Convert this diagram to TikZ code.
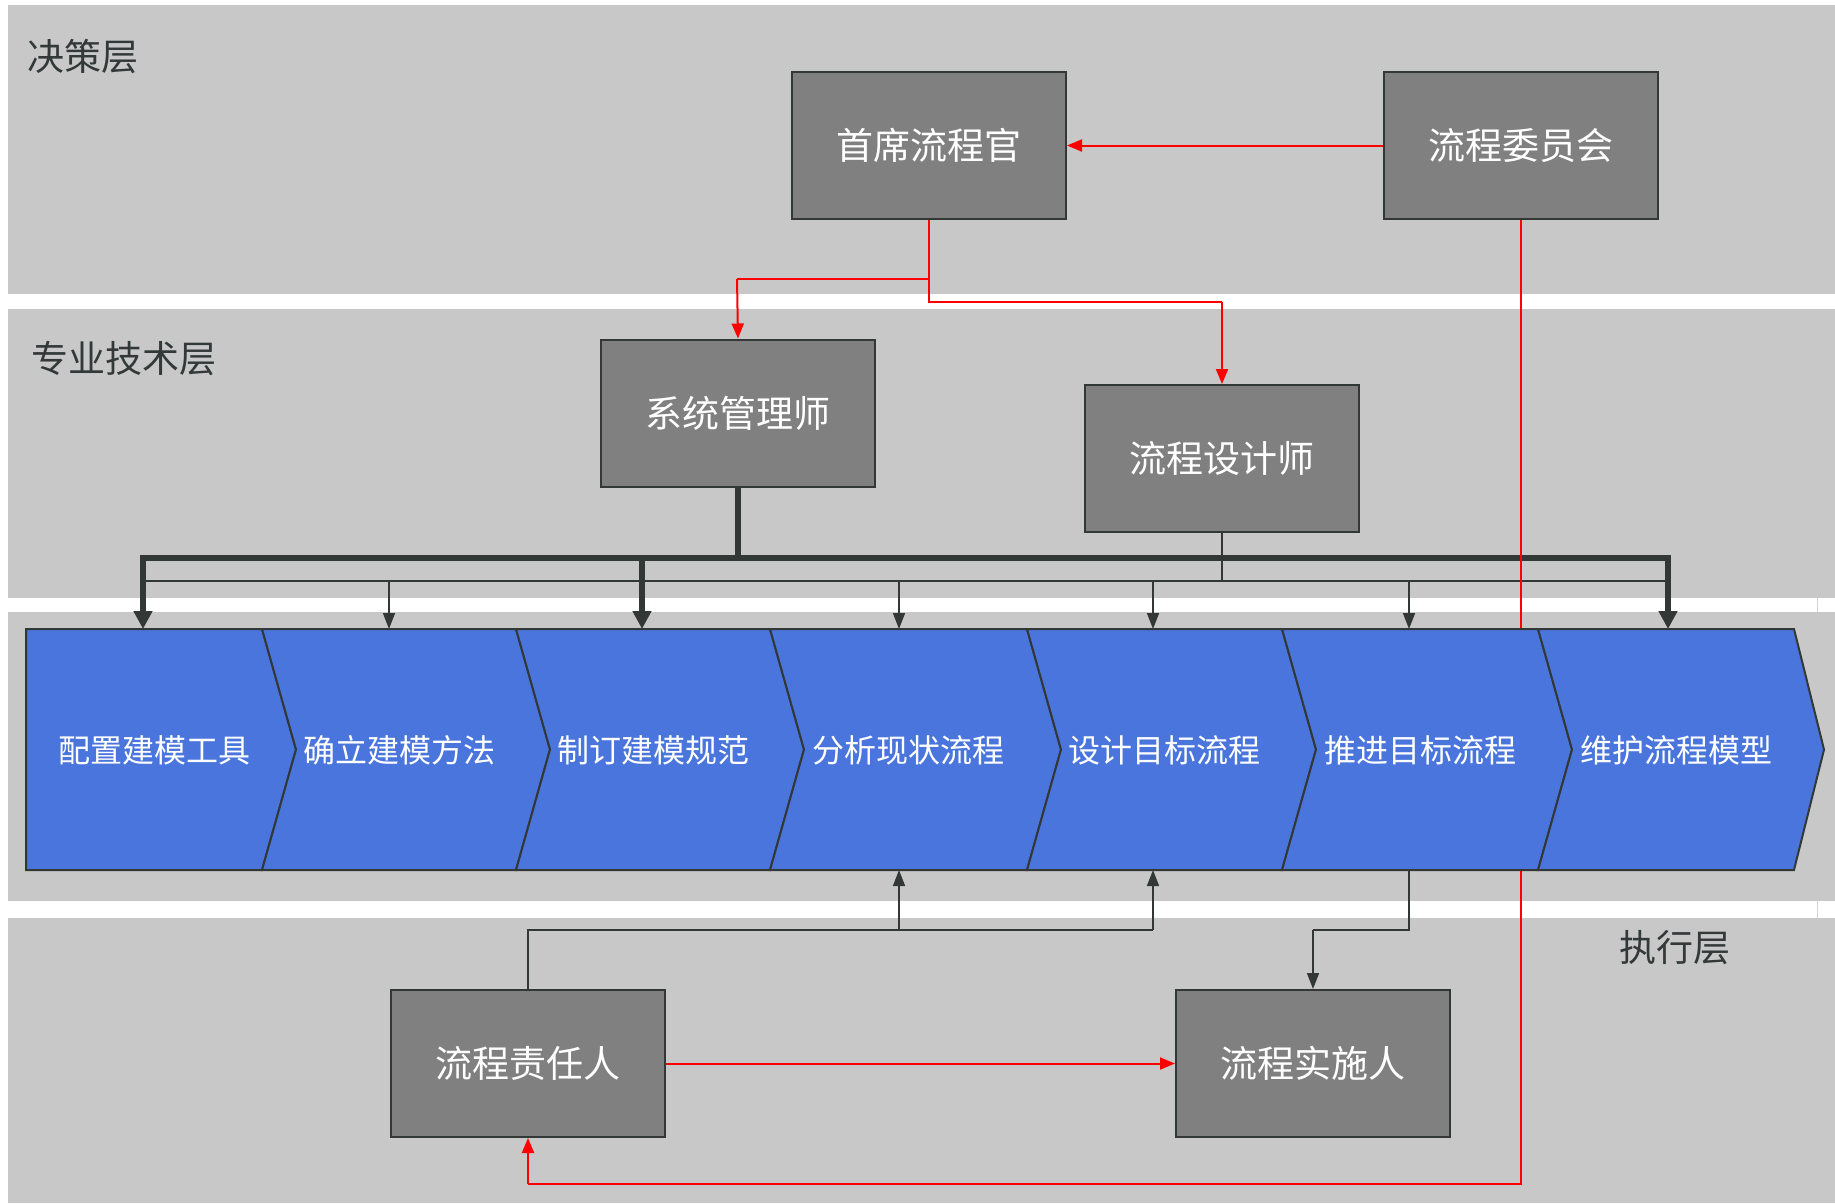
\documentclass[tikz,border=0pt]{standalone}
\usepackage{fontspec}
\newfontfamily\cjk{Noto Sans CJK SC}
\usetikzlibrary{arrows.meta}
\definecolor{bandgray}{HTML}{C8C8C8}
\definecolor{boxgray}{HTML}{808080}
\definecolor{dk}{HTML}{323836}
\definecolor{chevblue}{HTML}{4A75DD}
\definecolor{lbl}{HTML}{333838}
\begin{document}
\begin{tikzpicture}[x=1pt,y=-1pt,
  band/.style={fill=bandgray,draw=none},
  box/.style={draw=dk,line width=2pt,fill=boxgray,minimum width=274pt,minimum height=147pt,inner sep=0pt,text=white,font=\cjk\fontsize{37}{40}\selectfont},
  chev/.style={draw=dk,line width=2pt,fill=chevblue,line join=miter},
  chevtext/.style={text=white,inner sep=0pt,font=\cjk\fontsize{32}{34}\selectfont},
  layer/.style={text=lbl,inner sep=0pt,anchor=west,font=\cjk\fontsize{37}{40}\selectfont},
  thickln/.style={draw=dk,line width=6pt},
  thickarr/.style={draw=dk,line width=6pt,-{Triangle[length=18pt,width=18pt]}},
  thinln/.style={draw=dk,line width=1.6pt},
  thinarr/.style={draw=dk,line width=1.6pt,-{Triangle[length=16pt,width=12pt]}},
  redln/.style={draw=red,line width=2pt},
  redarr/.style={draw=red,line width=2pt,-{Triangle[length=15pt,width=12pt]}}
]
\useasboundingbox (0,0) rectangle (1835,1203);
% bands
\path[band] (8,5) rectangle (1835,294);
\path[band] (8,309) rectangle (1835,598);
\path[band] (8,612) rectangle (1835,901);
\path[band] (8,918) rectangle (1835,1203);
\draw[bandgray!80!white,line width=1pt] (1817,598) -- (1817,612);
\draw[bandgray!80!white,line width=1pt] (1817,901) -- (1817,918);

% layer labels
\node[layer] (L1) at (27,57) {决策层};
\node[layer] (L2) at (31,359) {专业技术层};
\node[layer] (L3) at (1619,948) {执行层};

% boxes
\node[box] (cpo)  at (929,145.5)  {首席流程官};
\node[box] (comm) at (1521,145.5) {流程委员会};
\node[box] (sys)  at (738,413)    {系统管理师};
\node[box] (des)  at (1222,458.5) {流程设计师};
\node[box] (own)  at (528,1063.5) {流程责任人};
\node[box] (imp)  at (1313,1063.5){流程实施人};

% coordinates
\coordinate (tk0) at (738,558);
\coordinate (tkL) at (143,558);
\coordinate (tkM) at (642,558);
\coordinate (tkR) at (1668,558);
\coordinate (tn0) at (1222,581);
\coordinate (tnL) at (143,581);
\coordinate (tnR) at (1668,581);
\coordinate (tn2) at (389,581);
\coordinate (tn4) at (899,581);
\coordinate (tn5) at (1153,581);
\coordinate (tn6) at (1409,581);
\coordinate (top1) at (143,629);
\coordinate (top2) at (389,629);
\coordinate (top3) at (642,629);
\coordinate (top4) at (899,629);
\coordinate (top5) at (1153,629);
\coordinate (top6) at (1409,629);
\coordinate (top7) at (1668,629);
\coordinate (bot4) at (899,870);
\coordinate (bot5) at (1153,870);
\coordinate (bot6) at (1409,870);
\coordinate (jb1) at (528,930);
\coordinate (jb4) at (899,930);
\coordinate (jb5) at (1153,930);
\coordinate (jb6) at (1409,930);
\coordinate (jb7) at (1313,930);
\coordinate (r1) at (929,279);
\coordinate (r2) at (737,279);
\coordinate (r3) at (929,302);
\coordinate (r4) at (1222,302);
\coordinate (r5) at (1521,1184);
\coordinate (r6) at (528,1184);

% thin bus (process designer)
\path[thinln] (des.south) -- (tn0);
\path[thinln] (tnL) -- (tnR);
\path[thinarr] (tn2) -- (top2);
\path[thinarr] (tn4) -- (top4);
\path[thinarr] (tn5) -- (top5);
\path[thinarr] (tn6) -- (top6);
% thick bus (system manager)
\path[thickln] (sys.south) -- (tk0);
\path[thickln,line cap=rect] (tkL) -- (tkR);
\path[thickarr] (tkL) -- (top1);
\path[thickarr] (tkM) -- (top3);
\path[thickarr] (tkR) -- (top7);

% bottom connectors
\path[thinln] (own.north) -- (jb1) -- (jb5);
\path[thinarr] (jb5) -- (bot5);
\path[thinarr] (jb4) -- (bot4);
\path[thinln] (bot6) -- (jb6) -- (jb7);
\path[thinarr] (jb7) -- (imp.north);

% red connectors
\path[redarr] (comm.west) -- (cpo.east);
\path[redln] (cpo.south) -- (r1) -- (r2);
\path[redarr] (r2) -- (sys.north);
\path[redln] (r1) -- (r3) -- (r4);
\path[redarr] (r4) -- (des.north);
\path[redln] (comm.south) -- (r5) -- (r6);
\path[redarr] (r6) -- (own.south);
\path[redarr] (own.east) -- (imp.west);

% chevrons
\path[chev] (26,629) -- (262,629) -- (296,749.5) -- (262,870) -- (26,870) -- cycle;
\path[chev] (262,629) -- (516,629) -- (550,749.5) -- (516,870) -- (262,870) -- (296,749.5) -- cycle;
\path[chev] (516,629) -- (770,629) -- (804,749.5) -- (770,870) -- (516,870) -- (550,749.5) -- cycle;
\path[chev] (770,629) -- (1027,629) -- (1061,749.5) -- (1027,870) -- (770,870) -- (804,749.5) -- cycle;
\path[chev] (1027,629) -- (1282,629) -- (1316,749.5) -- (1282,870) -- (1027,870) -- (1061,749.5) -- cycle;
\path[chev] (1282,629) -- (1538,629) -- (1572,749.5) -- (1538,870) -- (1282,870) -- (1316,749.5) -- cycle;
\path[chev] (1538,629) -- (1794,629) -- (1824,749.5) -- (1794,870) -- (1538,870) -- (1572,749.5) -- cycle;

\node[chevtext] (c1) at (154,750) {配置建模工具};
\node[chevtext] (c2) at (399,750) {确立建模方法};
\node[chevtext] (c3) at (653,750) {制订建模规范};
\node[chevtext] (c4) at (908,750) {分析现状流程};
\node[chevtext] (c5) at (1164,750) {设计目标流程};
\node[chevtext] (c6) at (1420,750) {推进目标流程};
\node[chevtext] (c7) at (1676,750) {维护流程模型};
\end{tikzpicture}
\end{document}
